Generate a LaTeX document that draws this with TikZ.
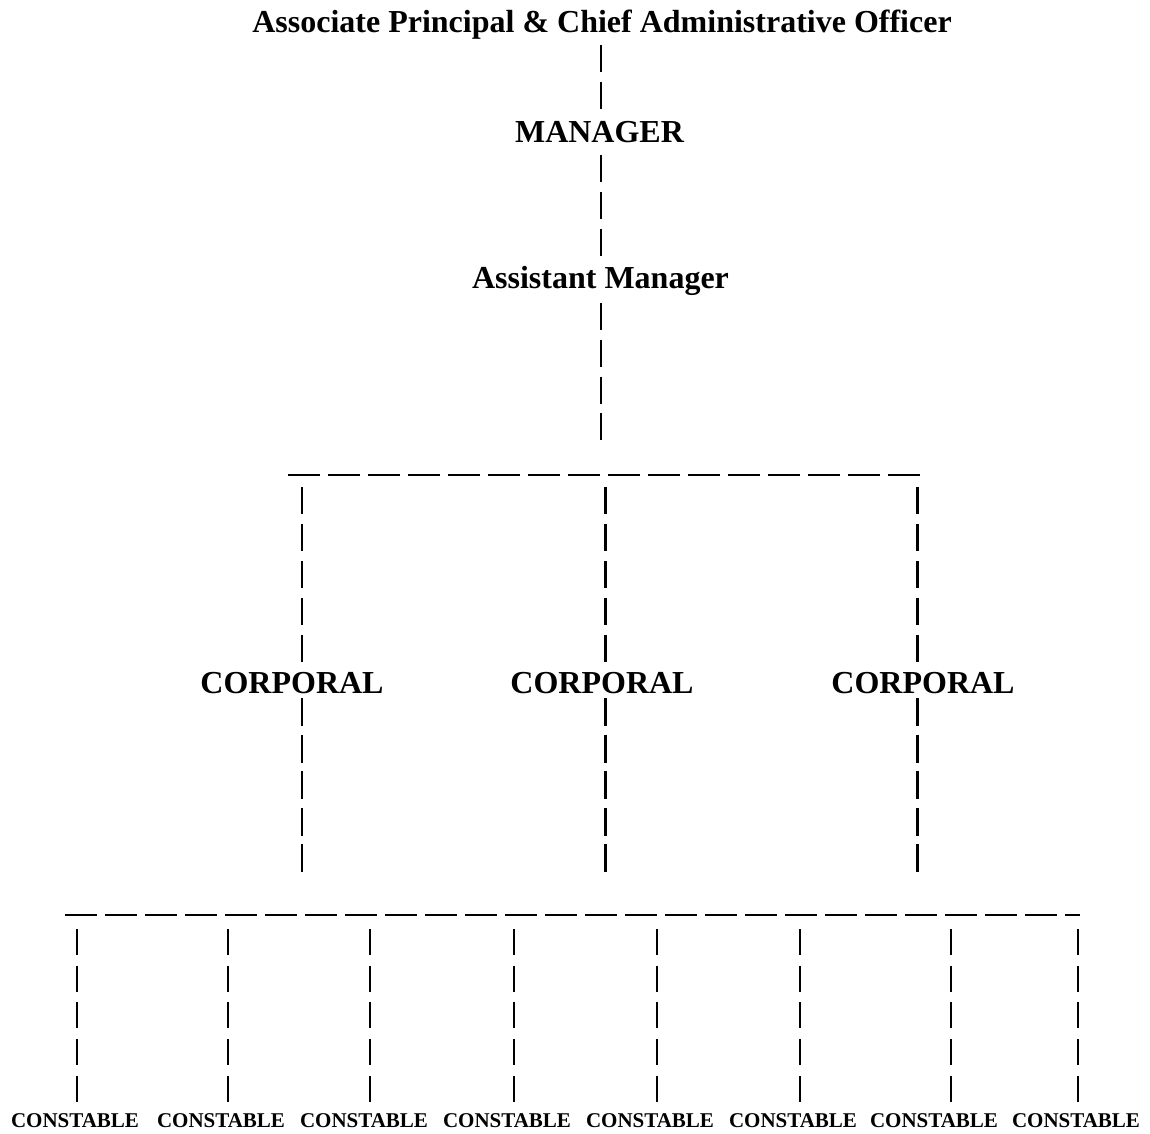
\documentclass[tikz,border=0pt]{standalone}
\usepackage{fontspec}
\setmainfont{Liberation Serif}
\begin{document}
\begin{tikzpicture}[x=1pt,y=-1pt,
  big/.style={font=\bfseries\fontsize{32}{38}\selectfont, inner sep=0pt, anchor=base},
  small/.style={font=\bfseries\fontsize{21}{25}\selectfont, inner sep=0pt, anchor=base},
  vline/.style={line width=2.3pt, dash pattern=on 27pt off 9.8pt},
  vlines/.style={line width=2.3pt, dash pattern=on 26pt off 10.7pt},
  hline/.style={line width=2pt, dash pattern=on 32pt off 8pt}]
\useasboundingbox (0,0) rectangle (1150,1133);

% labels
\node[big] (aprin) at (602,32) {Associate Principal \& Chief Administrative Officer};
\node[big] (mgr) at (599.5,142) {MANAGER};
\node[big] (amgr) at (600.5,288) {Assistant Manager};
\node[big] (corpA) at (292,693) {CORPORAL};
\node[big] (corpB) at (602,693) {CORPORAL};
\node[big] (corpC) at (923,693) {CORPORAL};
\foreach \i/\cx in {1/75,2/221,3/364,4/507,5/650,6/793,7/934,8/1076}
  \node[small] (con\i) at (\cx,1127) {CONSTABLE};

% connector end points
\coordinate (t1) at (600.7,45);   \coordinate (t2) at (600.7,110);
\coordinate (m1) at (600.7,155);  \coordinate (m2) at (600.7,256);
\coordinate (a1) at (600.7,303);  \coordinate (a2) at (600.7,440);
\coordinate (barL) at (288,475);  \coordinate (barR) at (921,475);
\coordinate (bbarL) at (65,915);  \coordinate (bbarR) at (1080,915);

% top chain
\draw[vline] (t1) -- (t2);
\draw[vline] (m1) -- (m2);
\draw[vline] (a1) -- (a2);
\draw[hline] (barL) -- (barR);

% corporal branches
\foreach \n/\x in {A/302,B/605.5,C/917.5}{
  \coordinate (up\n1) at (\x,487); \coordinate (up\n2) at (\x,662);
  \coordinate (dn\n1) at (\x,698); \coordinate (dn\n2) at (\x,872);
  \draw[line width=2.3pt, dash pattern=on 27pt off 10pt] (up\n1) -- (up\n2);
  \draw[line width=2.3pt, dash pattern=on 28pt off 8.5pt] (dn\n1) -- (dn\n2);
}

% bottom bar
\draw[hline] (bbarL) -- (bbarR);

% constable branches
\foreach \i/\x in {1/77,2/228,3/370,4/514,5/657,6/800,7/951,8/1078}{
  \coordinate (cv\i1) at (\x,929); \coordinate (cv\i2) at (\x,1102);
  \draw[vlines] (cv\i1) -- (cv\i2);
}
\end{tikzpicture}
\end{document}
